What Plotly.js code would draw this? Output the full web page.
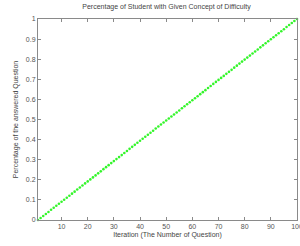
<!DOCTYPE html>
<html><head><meta charset="utf-8">
<script src="https://cdn.plot.ly/plotly-3.0.1.min.js"></script>
<style>html,body{margin:0;padding:0;background:#fff}#c{width:300px;height:246px}</style>
</head><body><div id="c"></div>
<script>
const iterations = [1,2,3,4,5,6,7,8,9,10,11,12,13,14,15,16,17,18,19,20,21,22,23,24,25,26,27,28,29,30,31,32,33,34,35,36,37,38,39,40,41,42,43,44,45,46,47,48,49,50,51,52,53,54,55,56,57,58,59,60,61,62,63,64,65,66,67,68,69,70,71,72,73,74,75,76,77,78,79,80,81,82,83,84,85,86,87,88,89,90,91,92,93,94,95,96,97,98,99,100];
const percentage = [0.000,0.010,0.020,0.030,0.040,0.051,0.061,0.071,0.081,0.091,0.101,0.111,0.121,0.131,0.141,0.152,0.162,0.172,0.182,0.192,0.202,0.212,0.222,0.232,0.242,0.253,0.263,0.273,0.283,0.293,0.303,0.313,0.323,0.333,0.343,0.354,0.364,0.374,0.384,0.394,0.404,0.414,0.424,0.434,0.444,0.455,0.465,0.475,0.485,0.495,0.505,0.515,0.525,0.535,0.545,0.556,0.566,0.576,0.586,0.596,0.606,0.616,0.626,0.636,0.646,0.657,0.667,0.677,0.687,0.697,0.707,0.717,0.727,0.737,0.747,0.758,0.768,0.778,0.788,0.798,0.808,0.818,0.828,0.838,0.848,0.859,0.869,0.879,0.889,0.899,0.909,0.919,0.929,0.939,0.949,0.960,0.970,0.980,0.990,1.000];
const xTicks = [10,20,30,40,50,60,70,80,90,100];
const xTickText = ['10','20','30','40','50','60','70','80','90','100'];
const yTicks = [0,0.1,0.2,0.3,0.4,0.5,0.6,0.7,0.8,0.9,1];
const yTickText = ['0','0.1','0.2','0.3','0.4','0.5','0.6','0.7','0.8','0.9','1'];
const titleText = 'Percentage of Student with Given Concept of Difficulty';
const xTitle = 'Iteration (The Number of Question)';
const yTitle = 'Percentage of the answered Question';

const fontFam = 'Liberation Sans, Arial, sans-serif';
const txtColor = '#444';
const axisCommon = {
  showline: true, mirror: 'ticks', linecolor: '#8a8a8a', linewidth: 1,
  ticks: 'inside', ticklen: 3, tickcolor: '#8a8a8a', tickwidth: 1,
  showgrid: false, zeroline: false, ticklabeloverflow: 'allow',
  tickfont: {family: fontFam, size: 7, color: '#555'}
};
Plotly.newPlot('c', [{
  x: iterations, y: percentage, type: 'scatter', mode: 'markers',
  marker: {color: '#33f52a', size: 2.6, line: {width: 0}},
  cliponaxis: false
}], {
  width: 300, height: 246,
  margin: {l: 38, r: 3, t: 19, b: 26},
  paper_bgcolor: '#fff', plot_bgcolor: '#fff',
  showlegend: false,
  title: {text: titleText, font: {family: fontFam, size: 7, color: txtColor}, x: 0.555, xanchor: 'center', y: 0.985, yanchor: 'top'},
  xaxis: Object.assign({}, axisCommon, {
    range: [1, 100], tickmode: 'array', tickvals: xTicks, ticktext: xTickText,
    title: {text: xTitle, font: {family: fontFam, size: 7, color: txtColor}, standoff: 2}
  }),
  yaxis: Object.assign({}, axisCommon, {
    range: [0, 1], tickmode: 'array', tickvals: yTicks, ticktext: yTickText,
    title: {text: yTitle, font: {family: fontFam, size: 7, color: txtColor}, standoff: 6}
  })
}, {staticPlot: true, displayModeBar: false});
</script></body></html>
